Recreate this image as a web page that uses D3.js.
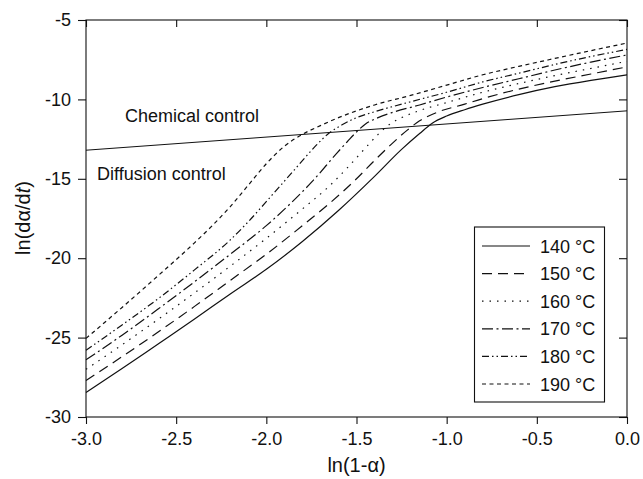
<!DOCTYPE html>
<html><head><meta charset="utf-8">
<script src="https://cdn.jsdelivr.net/npm/d3@7"></script>
<style>body{margin:0;background:#fff}svg{display:block}text{font-family:"Liberation Sans",Arial,sans-serif;fill:#111}</style>
</head><body><svg id="c" width="643" height="479"></svg>
<script>
const xTicks = [-3.0,-2.5,-2.0,-1.5,-1.0,-0.5,0.0];
const yTicks = [-30,-25,-20,-15,-10,-5];
const seriesNames = ["140 °C","150 °C","160 °C","170 °C","180 °C","190 °C"];
const s140 = [[-3,-28.45],[-2.8,-26.95],[-2.6,-25.4],[-2.4,-23.85],[-2.2,-22.25],[-2.0,-20.7],[-1.8,-18.95],[-1.6,-17.0],[-1.4,-14.85],[-1.25,-13.15],[-1.15,-12.15],[-1.08,-11.5],[-1.0,-11.05],[-0.9,-10.65],[-0.8,-10.3],[-0.6,-9.7],[-0.4,-9.2],[-0.2,-8.8],[0,-8.45]];
const s150 = [[-3,-27.7],[-2.8,-26.2],[-2.6,-24.65],[-2.4,-23.05],[-2.2,-21.4],[-2.0,-19.75],[-1.8,-17.95],[-1.65,-16.55],[-1.5,-15.0],[-1.4,-13.85],[-1.3,-12.75],[-1.22,-11.95],[-1.15,-11.35],[-1.05,-10.8],[-0.9,-10.3],[-0.8,-9.95],[-0.6,-9.35],[-0.4,-8.85],[-0.2,-8.4],[0,-7.95]];
const s160 = [[-3,-27.0],[-2.8,-25.45],[-2.6,-23.85],[-2.4,-22.2],[-2.2,-20.5],[-2.0,-18.75],[-1.8,-16.9],[-1.65,-15.45],[-1.55,-14.3],[-1.45,-13.05],[-1.38,-12.2],[-1.32,-11.6],[-1.25,-11.15],[-1.15,-10.7],[-1.0,-10.2],[-0.8,-9.55],[-0.6,-9.0],[-0.4,-8.5],[-0.2,-8.05],[0,-7.6]];
const s170 = [[-3,-26.4],[-2.8,-24.85],[-2.6,-23.2],[-2.4,-21.5],[-2.2,-19.75],[-2.0,-17.95],[-1.87,-16.6],[-1.74,-15.1],[-1.61,-13.4],[-1.55,-12.65],[-1.5,-12.05],[-1.45,-11.55],[-1.38,-11.15],[-1.3,-10.82],[-1.15,-10.35],[-1.0,-9.85],[-0.8,-9.25],[-0.6,-8.7],[-0.4,-8.15],[-0.2,-7.65],[0,-7.2]];
const s180 = [[-3,-25.8],[-2.8,-24.2],[-2.6,-22.55],[-2.4,-20.75],[-2.2,-18.85],[-2.1,-17.7],[-1.97,-16.05],[-1.83,-14.25],[-1.72,-12.85],[-1.65,-12.1],[-1.58,-11.6],[-1.5,-11.15],[-1.4,-10.78],[-1.2,-10.15],[-1.0,-9.55],[-0.8,-8.9],[-0.6,-8.35],[-0.4,-7.8],[-0.2,-7.3],[0,-6.85]];
const s190 = [[-3,-25.05],[-2.8,-23.1],[-2.6,-21.1],[-2.4,-19.05],[-2.3,-17.95],[-2.2,-16.75],[-2.1,-15.4],[-2.0,-14.05],[-1.9,-12.95],[-1.8,-12.2],[-1.7,-11.65],[-1.6,-11.15],[-1.4,-10.35],[-1.2,-9.75],[-1.0,-9.1],[-0.8,-8.45],[-0.6,-7.92],[-0.4,-7.42],[-0.2,-6.93],[0,-6.45]];
const boundary = [[-3,-13.2],[0,-10.72]];
const dashes = [null,"10,6","1.5,6","11,3.5,2,3.5","7,3,1.5,3,1.5,3","4,3.5"];

const svg = d3.select("#c");
const x = d3.scaleLinear().domain([-3,0]).range([86,627]);
const y = d3.scaleLinear().domain([-30,-5]).range([417,20]);
const ink = "#111";
const fx = d => d3.format(".1f")(d).replace("\u2212","-");
const fy = d => d3.format("d")(d).replace("\u2212","-");

const xMinor = d3.range(-3,0.001,0.25);
const yMinor = d3.range(-30,-4.99,2.5);

const gb = svg.append("g").attr("transform","translate(0,417)");
gb.call(d3.axisBottom(x).tickValues(xMinor).tickSize(4).tickFormat(""));
gb.call(d3.axisBottom(x).tickValues(xTicks).tickSize(7).tickPadding(8).tickFormat(fx));
const gl = svg.append("g").attr("transform","translate(86,0)");
gl.call(d3.axisLeft(y).tickValues(yMinor).tickSize(5).tickFormat(""));
gl.call(d3.axisLeft(y).tickValues(yTicks).tickSize(8).tickPadding(7).tickFormat(fy));
const gt = svg.append("g").attr("transform","translate(0,20)");
gt.call(d3.axisTop(x).tickValues(xMinor).tickSize(-4).tickFormat(""));
gt.call(d3.axisTop(x).tickValues(xTicks).tickSize(-7).tickFormat(""));
const gr = svg.append("g").attr("transform","translate(627,0)");
gr.call(d3.axisRight(y).tickValues(yMinor).tickSize(-5).tickFormat(""));
gr.call(d3.axisRight(y).tickValues(yTicks).tickSize(-8).tickFormat(""));

svg.selectAll(".tick line").attr("stroke",ink).attr("stroke-width",1.1);
svg.selectAll(".tick text").attr("font-size",18).attr("fill",ink).attr("font-family","Liberation Sans, Arial, sans-serif");
svg.selectAll("path.domain").remove();
svg.append("rect").attr("x",x(-3)).attr("y",y(-5)).attr("width",x(0)-x(-3)).attr("height",y(-30)-y(-5))
  .attr("fill","none").attr("stroke",ink).attr("stroke-width",1.1);

const plot = svg.append("g");
const line = d3.line().x(d=>x(d[0])).y(d=>y(d[1])).curve(d3.curveMonotoneX);
const series = [s140,s150,s160,s170,s180,s190];
series.forEach((s,i)=>{
  plot.append("path").attr("d",line(s)).attr("fill","none").attr("stroke",ink)
    .attr("stroke-width",1.2).attr("stroke-dasharray",dashes[i]);
});
plot.append("path").attr("d",d3.line().x(d=>x(d[0])).y(d=>y(d[1]))(boundary))
  .attr("fill","none").attr("stroke",ink).attr("stroke-width",1);

svg.append("text").attr("x",125).attr("y",121.5).attr("font-size",18).text("Chemical control");
svg.append("text").attr("x",97).attr("y",179.5).attr("font-size",18).text("Diffusion control");

const xt = svg.append("text").attr("x",356.5).attr("y",472).attr("text-anchor","middle").attr("font-size",20);
xt.append("tspan").text("ln(1-");
xt.append("tspan").text("α");
xt.append("tspan").text(")");
const yt = svg.append("text").attr("transform","translate(30,218) rotate(-90)").attr("text-anchor","middle").attr("font-size",20);
yt.append("tspan").text("ln(d");
yt.append("tspan").text("α");
yt.append("tspan").text("/d");
yt.append("tspan").attr("font-style","italic").text("t");
yt.append("tspan").text(")");

const lg = svg.append("g");
lg.append("rect").attr("x",474.5).attr("y",227).attr("width",130).attr("height",175)
  .attr("fill","#fff").attr("stroke",ink).attr("stroke-width",1.1);
seriesNames.forEach((n,i)=>{
  const yy = 246 + i*27.6;
  lg.append("line").attr("x1",482).attr("x2",530).attr("y1",yy).attr("y2",yy)
    .attr("stroke",ink).attr("stroke-width",1.2).attr("stroke-dasharray",dashes[i]);
  lg.append("text").attr("x",540).attr("y",yy+6.5).attr("font-size",18).text(n);
});
</script></body></html>
